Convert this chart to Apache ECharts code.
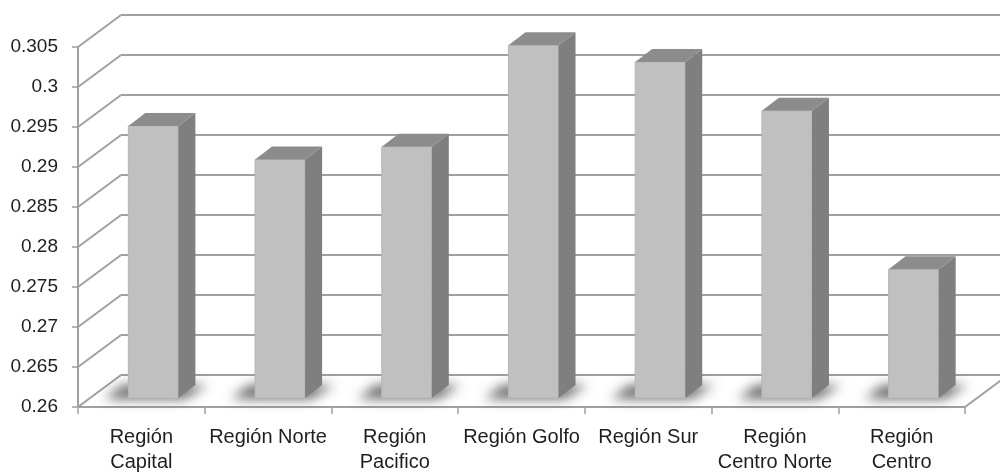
<!DOCTYPE html>
<html>
<head>
<meta charset="utf-8">
<script src="https://cdn.jsdelivr.net/npm/echarts@6/dist/echarts.min.js"></script>
<style>
  html, body { margin: 0; padding: 0; background: #ffffff; }
  #chart { width: 1000px; height: 475px; }
</style>
</head>
<body>
<div id="chart"></div>
<script>
// Regions and their values
const categories = [
  'Región\nCapital',
  'Región Norte',
  'Región\nPacifico',
  'Región Golfo',
  'Región Sur',
  'Región\nCentro Norte',
  'Región\nCentro'
];
const values = [0.2940, 0.2898, 0.2914, 0.3041, 0.3020, 0.2959, 0.2761];

// Value axis range and gridline levels
const yMin = 0.26;
const yMax = 0.305;
const yStep = 0.005;
const gridLevels = [0.26, 0.265, 0.27, 0.275, 0.28, 0.285, 0.29, 0.295, 0.3, 0.305];

// Pseudo-3D projection offsets (pixels)
const WALL_DX = 43, WALL_DY = -32;          // back wall relative to front plane
const FACE_DX = 12, FACE_DY = -9;           // bar front face relative to front plane
const DEPTH_DX = 17, DEPTH_DY = -13;        // bar depth
const BAR_RATIO = 0.395;                    // bar width / category band

const FONT = "'Liberation Sans', Arial, sans-serif";
const GRID_COLOR = '#a0a0a0';

const chart = echarts.init(document.getElementById('chart'), null, { renderer: 'canvas' });

function renderWall(params, api) {
  const v = api.value(1);
  const cs = params.coordSys;
  const y = api.coord([0, v])[1];
  const x0 = cs.x, x1 = cs.x + cs.width;
  const lineStyle = { stroke: GRID_COLOR, lineWidth: 2 };
  const children = [
    { type: 'line', shape: { x1: x0, y1: y, x2: x0 + WALL_DX, y2: y + WALL_DY }, style: lineStyle },
    { type: 'line', shape: { x1: x0 + WALL_DX, y1: y + WALL_DY, x2: x1 + WALL_DX, y2: y + WALL_DY }, style: lineStyle }
  ];
  if (v === yMin) {
    children.push({ type: 'line', shape: { x1: x0, y1: y, x2: x1, y2: y }, style: lineStyle });
    children.push({ type: 'line', shape: { x1: x1, y1: y, x2: x1 + WALL_DX, y2: y + WALL_DY }, style: lineStyle });
  }
  return { type: 'group', children: children };
}

function renderBar(params, api) {
  const i = api.value(0);
  const v = api.value(1);
  const top = api.coord([i, v]);
  const base = api.coord([i, yMin]);
  const band = api.size([1, 0])[0];
  const hw = band * BAR_RATIO / 2;
  const x0 = top[0] - hw + FACE_DX;
  const x1 = top[0] + hw + FACE_DX;
  const yt = top[1] + FACE_DY;
  const yb = base[1] + FACE_DY;
  const SHIFT = 2000;
  return {
    type: 'group',
    children: [
      // soft floor shadow (shape sits off to the side; only its blurred shadow lands under the bar)
      {
        type: 'polygon',
        shape: { points: [
          [x0 - 24 - SHIFT, yb + 1], [x1 + 6 - SHIFT, yb + 1],
          [x1 + DEPTH_DX + 12 - SHIFT, yb + DEPTH_DY], [x0 - 6 - SHIFT, yb + DEPTH_DY]
        ] },
        style: { fill: '#000', shadowBlur: 12, shadowColor: 'rgba(50,50,50,0.72)', shadowOffsetX: SHIFT }
      },
      // front face
      {
        type: 'polygon',
        shape: { points: [[x0, yt], [x1, yt], [x1, yb], [x0, yb]] },
        style: { fill: '#c0c0c0', stroke: '#b6b6b6', lineWidth: 1 }
      },
      // right side
      {
        type: 'polygon',
        shape: { points: [[x1, yt], [x1 + DEPTH_DX, yt + DEPTH_DY], [x1 + DEPTH_DX, yb + DEPTH_DY], [x1, yb]] },
        style: { fill: '#7f7f7f' }
      },
      // top
      {
        type: 'polygon',
        shape: { points: [[x0, yt], [x1, yt], [x1 + DEPTH_DX, yt + DEPTH_DY], [x0 + DEPTH_DX, yt + DEPTH_DY]] },
        style: { fill: '#8c8c8c' }
      }
    ]
  };
}

chart.setOption({
  backgroundColor: '#ffffff',
  animation: false,
  grid: { left: 78, right: 35, top: 47, bottom: 68, containLabel: false },
  xAxis: {
    type: 'category',
    data: categories,
    boundaryGap: true,
    axisLine: { show: false },
    axisTick: { show: true, alignWithLabel: false, length: 7, lineStyle: { color: GRID_COLOR, width: 1.5 } },
    axisLabel: {
      interval: 0,
      margin: 18,
      fontFamily: FONT,
      fontSize: 20,
      lineHeight: 25,
      color: '#1e1e1e'
    },
    splitLine: { show: false }
  },
  yAxis: {
    type: 'value',
    min: yMin,
    max: yMax,
    interval: yStep,
    axisLine: { show: true, lineStyle: { color: GRID_COLOR, width: 2 } },
    axisTick: { show: true, length: 6, lineStyle: { color: GRID_COLOR, width: 1.5 } },
    axisLabel: {
      margin: 20,
      fontFamily: FONT,
      fontSize: 19,
      color: '#1e1e1e'
    },
    splitLine: { show: false }
  },
  series: [
    {
      type: 'custom',
      name: 'wall',
      renderItem: renderWall,
      data: gridLevels.map(v => [0, v]),
      encode: { x: 0, y: 1 },
      clip: false,
      silent: true,
      z: 1
    },
    {
      type: 'custom',
      name: 'bars',
      renderItem: renderBar,
      data: values.map((v, i) => [i, v]),
      encode: { x: 0, y: 1 },
      clip: false,
      z: 3
    }
  ]
});
</script>
</body>
</html>
